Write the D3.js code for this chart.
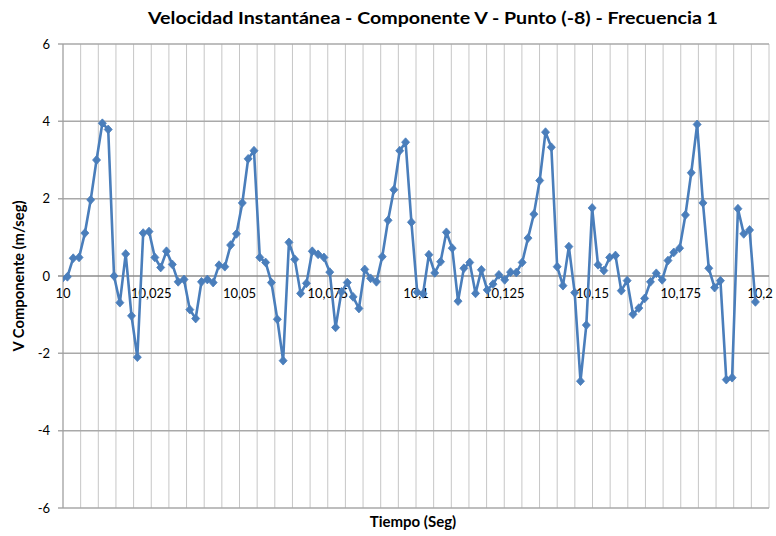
<!DOCTYPE html>
<html>
<head>
<meta charset="utf-8">
<script src="https://cdn.jsdelivr.net/npm/d3@7"></script>
<style>
  html, body { margin: 0; padding: 0; background: #ffffff; }
  svg { display: block; }
</style>
</head>
<body>
<svg id="chart" width="776" height="536"></svg>
<script>
// ---- Data ----
const times = [
  9.99959, 10.00124, 10.00289, 10.00455, 10.00620, 10.00785, 10.00950, 10.01115, 10.01281, 10.01446,
  10.01611, 10.01776, 10.01941, 10.02106, 10.02272, 10.02437, 10.02602, 10.02767, 10.02932, 10.03097,
  10.03263, 10.03428, 10.03593, 10.03758, 10.03923, 10.04089, 10.04254, 10.04419, 10.04584, 10.04749,
  10.04914, 10.05080, 10.05245, 10.05410, 10.05575, 10.05740, 10.05905, 10.06071, 10.06236, 10.06401,
  10.06566, 10.06731, 10.06897, 10.07062, 10.07227, 10.07392, 10.07557, 10.07722, 10.07888, 10.08053,
  10.08218, 10.08383, 10.08548, 10.08714, 10.08879, 10.09044, 10.09209, 10.09374, 10.09539, 10.09705,
  10.09870, 10.10035, 10.10200, 10.10365, 10.10531, 10.10696, 10.10861, 10.11026, 10.11191, 10.11356,
  10.11522, 10.11687, 10.11852, 10.12017, 10.12182, 10.12348, 10.12513, 10.12678, 10.12843, 10.13008,
  10.13173, 10.13339, 10.13504, 10.13669, 10.13834, 10.13999, 10.14164, 10.14330, 10.14495, 10.14660,
  10.14825, 10.14990, 10.15156, 10.15321, 10.15486, 10.15651, 10.15816, 10.15981, 10.16147, 10.16312,
  10.16477, 10.16642, 10.16807, 10.16973, 10.17138, 10.17303, 10.17468, 10.17633, 10.17798, 10.17964,
  10.18129, 10.18294, 10.18459, 10.18624, 10.18790, 10.18955, 10.19120, 10.19285, 10.19450, 10.19615
];
const vComponent = [
  -0.08, -0.02, 0.46, 0.48, 1.11, 1.97, 3.00, 3.95, 3.79, 0.00,
  -0.69, 0.57, -1.03, -2.10, 1.11, 1.15, 0.48, 0.22, 0.64, 0.30,
  -0.15, -0.09, -0.87, -1.10, -0.15, -0.09, -0.17, 0.28, 0.24, 0.80,
  1.09, 1.89, 3.03, 3.24, 0.48, 0.35, -0.17, -1.12, -2.19, 0.87,
  0.43, -0.45, -0.19, 0.64, 0.56, 0.48, 0.10, -1.33, -0.41, -0.17,
  -0.54, -0.84, 0.17, -0.06, -0.15, 0.50, 1.44, 2.23, 3.24, 3.46,
  1.39, -0.42, -0.46, 0.55, 0.08, 0.37, 1.13, 0.72, -0.65, 0.20,
  0.35, -0.45, 0.16, -0.36, -0.21, 0.03, -0.10, 0.10, 0.09, 0.35,
  0.98, 1.60, 2.47, 3.72, 3.33, 0.24, -0.25, 0.76, -0.43, -2.72,
  -1.27, 1.76, 0.29, 0.14, 0.48, 0.53, -0.38, -0.12, -0.99, -0.83,
  -0.58, -0.15, 0.07, -0.10, 0.40, 0.61, 0.72, 1.58, 2.67, 3.92,
  1.89, 0.20, -0.30, -0.12, -2.68, -2.63, 1.74, 1.09, 1.19, -0.67
];
const xTickValues = [10, 10.025, 10.05, 10.075, 10.1, 10.125, 10.15, 10.175, 10.2];
const xTickLabels = ["10", "10,025", "10,05", "10,075", "10,1", "10,125", "10,15", "10,175", "10,2"];
const xMinorGrid = [10.005, 10.01, 10.015, 10.02, 10.03, 10.035, 10.04, 10.045, 10.055, 10.06, 10.065, 10.07,
  10.08, 10.085, 10.09, 10.095, 10.105, 10.11, 10.115, 10.12, 10.13, 10.135, 10.14, 10.145,
  10.155, 10.16, 10.165, 10.17, 10.18, 10.185, 10.19, 10.195];
const yTickValues = [-6, -4, -2, 0, 2, 4, 6];
const yTickLabels = ["-6", "-4", "-2", "0", "2", "4", "6"];

const titleText = "Velocidad Instantánea - Componente V - Punto (-8) - Frecuencia 1";
const xTitle = "Tiempo (Seg)";
const yTitle = "V Componente (m/seg)";

// ---- Layout ----
const pLeft = 63, pRight = 769, pTop = 44, pBottom = 508;
const svg = d3.select("#chart");
const font = "Lato, 'Open Sans', sans-serif";

const x = d3.scaleLinear().domain([10, 10.2]).range([pLeft, pRight]);
const y = d3.scaleLinear().domain([-6, 6]).range([pBottom, pTop]);

// Vertical gridlines (minor + major)
svg.append("g").selectAll("line").data(xMinorGrid.concat(xTickValues.slice(1))).join("line")
  .attr("x1", d => x(d)).attr("x2", d => x(d))
  .attr("y1", pTop).attr("y2", pBottom)
  .attr("stroke", "#c6c6c6").attr("stroke-width", 1);

// Horizontal gridlines
svg.append("g").selectAll("line").data(yTickValues.filter(v => v !== 0)).join("line")
  .attr("x1", pLeft - 5).attr("x2", pRight)
  .attr("y1", d => y(d)).attr("y2", d => y(d))
  .attr("stroke", "#a9a9a9").attr("stroke-width", 1.5);

// Y axis line
svg.append("line")
  .attr("x1", pLeft).attr("x2", pLeft).attr("y1", pTop).attr("y2", pBottom)
  .attr("stroke", "#a0a0a0").attr("stroke-width", 1.3);

// X axis at zero
svg.append("line")
  .attr("x1", pLeft - 5).attr("x2", pRight).attr("y1", y(0)).attr("y2", y(0))
  .attr("stroke", "#8c8c8c").attr("stroke-width", 1.3);

// Y tick labels
svg.append("g").selectAll("text").data(yTickValues).join("text")
  .attr("x", 50).attr("y", d => y(d)).attr("dy", "0.35em")
  .attr("text-anchor", "end")
  .attr("font-family", font).attr("font-size", 13).attr("fill", "#000")
  .text((d, i) => yTickLabels[i]);

// X tick labels (last one kept inside the picture)
svg.append("g").selectAll("text").data(xTickValues).join("text")
  .attr("x", d => Math.min(x(d), 760)).attr("y", y(0) + 22)
  .attr("text-anchor", "middle")
  .attr("font-family", font).attr("font-size", 13).attr("fill", "#000")
  .text((d, i) => xTickLabels[i]);

// Clip
svg.append("clipPath").attr("id", "plotclip")
  .append("rect").attr("x", pLeft).attr("y", pTop - 6).attr("width", pRight - pLeft + 6).attr("height", pBottom - pTop + 12);

const pts = times.map((t, i) => [t, vComponent[i]]);
const plot = svg.append("g").attr("clip-path", "url(#plotclip)");

plot.append("path").datum(pts)
  .attr("fill", "none")
  .attr("stroke", "#4a7ebb")
  .attr("stroke-width", 2.6)
  .attr("stroke-linejoin", "round")
  .attr("d", d3.line().x(d => x(d[0])).y(d => y(d[1])));

plot.append("g").selectAll("path").data(pts).join("path")
  .attr("transform", d => `translate(${x(d[0])},${y(d[1])})`)
  .attr("d", "M0,-4.4L4,0L0,4.4L-4,0Z")
  .attr("fill", "#4a7ebb")
  .attr("stroke", "#4a7ebb").attr("stroke-width", 0.8);

// Titles
svg.append("text")
  .attr("x", 433).attr("y", 24)
  .attr("text-anchor", "middle")
  .attr("font-family", font).attr("font-weight", "bold").attr("font-size", 17)
  .attr("textLength", 570).attr("lengthAdjust", "spacingAndGlyphs")
  .text(titleText);

svg.append("text")
  .attr("x", 413).attr("y", 527)
  .attr("text-anchor", "middle")
  .attr("font-family", font).attr("font-weight", "bold").attr("font-size", 15)
  .text(xTitle);

svg.append("text")
  .attr("transform", `translate(24,276) rotate(-90)`)
  .attr("text-anchor", "middle")
  .attr("font-family", font).attr("font-weight", "bold").attr("font-size", 14.8)
  .text(yTitle);
</script>
</body>
</html>
